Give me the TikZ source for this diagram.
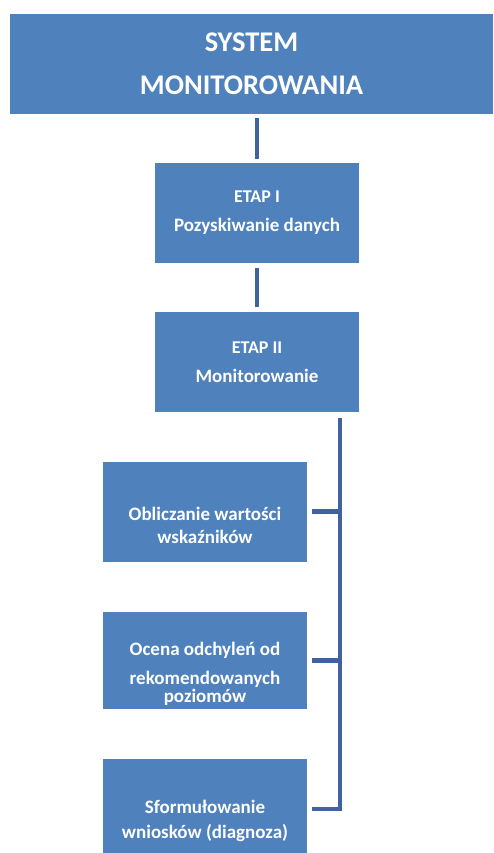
\documentclass[tikz,border=0pt]{standalone}
\usepackage{fontspec}
\setmainfont{Carlito}
\usepackage{tikz}
\usetikzlibrary{positioning, calc}
\usepackage{xcolor}
\definecolor{BoxBlue}{RGB}{79,129,189}
\definecolor{LineBlue}{RGB}{64,98,160}

\tikzset{
  box/.style={fill=BoxBlue, draw=none, text=white, align=center,
    minimum width=204pt, minimum height=100pt, inner sep=2pt,
    font=\bfseries\fontsize{19}{29}\selectfont},
  boxtext/.style={text=white, align=center, inner sep=0pt,
    font=\bfseries\fontsize{19}{23}\selectfont},
  link/.style={draw=LineBlue, line width=4.5pt}
}

\begin{document}
\begin{tikzpicture}[x=1pt, y=-1pt]
\useasboundingbox (0,0) rectangle (493,853);

\node[box, minimum width=483pt, font=\bfseries\fontsize{28.5}{43}\selectfont]
  (top) at (251.5,64) {SYSTEM\\MONITOROWANIA};

\node[box] (etapI)  at (257,213) {{\fontsize{18}{29}\selectfont ETAP I}\\Pozyskiwanie danych};
\node[box] (etapII) at (257,362) {{\fontsize{18}{29}\selectfont ETAP II}\\Monitorowanie};

\node[box] (oblicz)  at (205,511.5) {};
\node[box, minimum height=97pt] (ocena) at (205,660.5) {};
\node[box] (wnioski) at (205,809) {};

\node[boxtext] (obliczTxt) at ([yshift=-14pt]oblicz.center)
  {Obliczanie wartości\\wskaźników};
\node[boxtext] (ocenaTxt) at ([yshift=-13pt]ocena.center)
  {Ocena odchyleń od\\[6pt]rekomendowanych\\[-5pt]poziomów};
\node[boxtext, font=\bfseries\fontsize{19}{25}\selectfont] (wnioskiTxt)
  at ([yshift=-12pt]wnioski.center) {Sformułowanie\\wniosków (diagnoza)};

% connectors
\draw[link, shorten <=4pt, shorten >=4pt] (top.south -| etapI.north) -- (etapI.north);
\draw[link, shorten <=5pt, shorten >=5pt] (etapI.south) -- (etapII.north);

\coordinate (busTop) at ($(etapII.south -| 340,0) + (0,6)$);
\draw[link] (busTop) |- ([xshift=5pt]wnioski.east);
\draw[link] ([xshift=5pt]oblicz.east) -- (oblicz.east -| busTop);
\draw[link] ([xshift=5pt]ocena.east) -- (ocena.east -| busTop);
\end{tikzpicture}
\end{document}
